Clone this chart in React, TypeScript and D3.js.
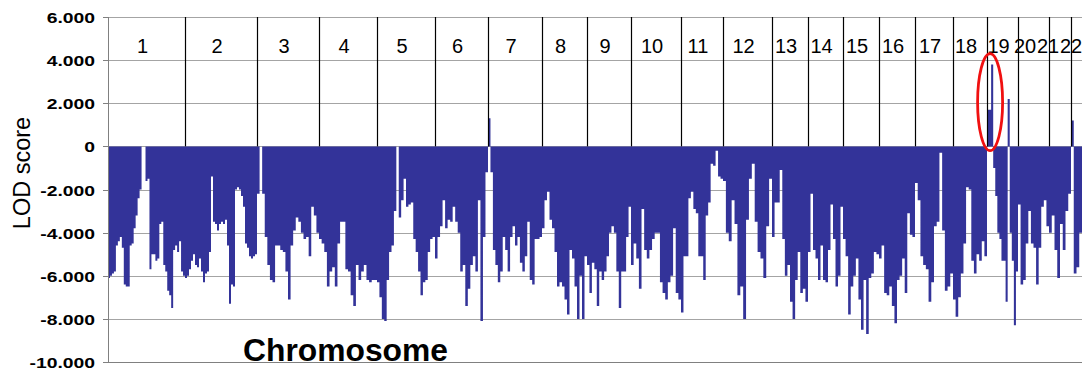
import React, { useEffect, useRef } from 'react';
import * as d3 from 'd3';

// chromosome names and relative map lengths
const chromosomes = ['1', '2', '3', '4', '5', '6', '7', '8', '9', '10', '11', '12', '13', '14', '15', '16', '17', '18', '19', '20', '21', '22'];
const chromLength = [77, 72, 62, 58, 58, 53, 54, 45, 44, 50, 42, 49, 36, 35, 36, 36, 38, 34, 31, 31, 22, 22];

// LOD scores along each chromosome (evenly spaced markers)
const chr1 = [-6.1, -6.0, -5.9, -5.8, -4.6, -4.4, -4.2, -4.7, -6.4, -6.5, -6.5, -4.6, -4.5, -3.8, -3.2, -2.4, -2.0, 0, 0, -1.6, -1.5, -5.7, -5.0, -5.0, -5.3, -5.2, -3.6, -3.5, -5.5, -5.8, -6.7, -6.9, -7.5, -4.8, -4.6, -4.9, -4.4, -5.8, -6.0];
const chr2 = [-6.1, -6.0, -5.7, -5.3, -5.0, -5.5, -5.6, -5.2, -5.8, -6.3, -5.9, -5.8, -4.9, -1.4, -3.5, -3.6, -3.9, -3.6, -3.5, -3.6, -3.4, -4.6, -7.3, -6.4, -6.5, -2.0, -1.9, -2.0, -2.3, -2.8, -4.5, -4.7, -5.1, -5.2, -5.1, -5.0];
const chr3 = [-2.2, 0, -2.2, -4.2, -5.5, -6.2, -6.3, -4.6, -4.6, -4.8, -4.9, -5.8, -7.1, -4.6, -3.9, -3.3, -3.5, -4.0, -4.3, -4.2, -5.1, -2.8, -3.2, -4.0];
const chr4 = [-4.3, -4.5, -4.9, -6.5, -5.8, -5.6, -6.5, -4.5, -3.5, -3.5, -5.7, -5.8, -6.9, -7.4, -5.5, -6.2, -5.8, -5.5, -6.2, -6.3, -6.2, -6.2];
const chr5 = [-6.3, -7.0, -8.0, -8.1, -6.2, -4.9, -4.6, -3.0, 0, -3.3, -2.5, -1.5, -2.8, -2.7, -2.6, -4.3, -4.9, -5.8, -6.9, -6.3, -6.2, -4.9, -4.3, -4.2];
const chr6 = [-5.2, -4.2, -3.7, -2.5, -3.8, -3.4, -3.5, -2.8, -3.5, -4.0, -5.8, -5.5, -7.4, -6.6, -5.5, -5.1, -5.8, -2.5, -8.1, -4.2, -1.2];
const chr7 = [1.3, -1.2, -4.8, -5.5, -6.3, -5.8, -4.2, -4.8, -5.8, -4.2, -3.7, -4.6, -4.2, -5.4, -5.8, -5.1, -3.5, -6.2, -6.4, -4.3, -4.3, -4.2];
const chr8 = [-3.8, -2.5, -2.1, -3.4, -3.8, -4.9, -6.5, -6.3, -6.5, -7.1, -7.8, -4.8, -5.2, -6.5, -8.0, -6.0, -8.0, -5.1];
const chr9 = [-5.5, -6.8, -5.4, -5.7, -7.4, -5.8, -6.2, -5.8, -5.1, -4.0, -3.7, -4.0, -5.8, -7.5, -5.8, -5.8, -4.2, -2.8];
const chr10 = [-5.5, -4.5, -5.2, -6.6, -2.9, -4.8, -5.2, -4.8, -4.3, -4.0, -4.0, -6.3, -6.8, -7.1, -6.3, -6.0, -3.8, -6.8, -7.1];
const chr11 = [-7.7, -5.1, -5.1, -2.4, -2.1, -2.9, -3.1, -5.1, -5.1, -6.2, -3.2, -2.6, -0.8, -0.9, -0.2, -1.4, -1.5];
const chr12 = [-1.6, -4.0, -4.4, -2.5, -3.6, -6.9, -6.5, -8.0, -3.4, -1.5, -0.8, -3.5, -4.9, -5.2, -6.1, -3.7, -1.5];
const chr13 = [-4.2, -2.6, -2.6, -1.1, -4.3, -6.0, -5.5, -7.2, -8.0, -6.2, -4.9, -6.8, -6.6, -7.2];
const chr14 = [-4.9, -2.2, -4.8, -5.2, -6.2, -4.6, -6.2, -6.3, -4.8, -2.7, -4.3, -6.5, -6.0, -2.8];
const chr15 = [-4.3, -5.1, -7.8, -6.5, -6.0, -5.2, -7.1, -8.5, -6.2, -8.7, -6.1, -5.9, -4.9, -5.0];
const chr16 = [-5.2, -4.6, -6.8, -6.9, -6.5, -7.4, -8.2, -6.2, -6.0, -5.2, -6.8, -3.1, -4.1, -4.2];
const chr17 = [-1.7, -2.5, -5.1, -5.5, -5.7, -7.2, -6.3, -3.7, -3.5, -0.3, -3.9, -6.7, -6.5, -5.9];
const chr18 = [-7.1, -7.9, -7.0, -5.9, -4.5, -1.9, -2.0, -5.3, -5.9, -5.0, -5.3, -4.4, -5.1];
const chr19 = [1.7, 1.7, 3.8, -1.0, -2.3, -4.0, -4.3, -5.3, -5.3, -7.2, 2.2, -4.0, -5.3, -8.3, -5.8];
const chr20 = [-2.7, -6.4, -6.2, -4.5, -3.0, -4.5, -4.7, -6.4, -4.7, -2.8, -2.5, -3.7];
const chr21 = [-4.0, -3.2, -4.8, -6.1, -3.6, -4.8, -3.0, -2.2];
const chr22 = [1.2, -5.9, -5.6, -4.0, -4.6, -5.2, -4.8, -5.0];

const lodByChrom = [chr1, chr2, chr3, chr4, chr5, chr6, chr7, chr8, chr9, chr10, chr11, chr12, chr13, chr14, chr15, chr16, chr17, chr18, chr19, chr20, chr21, chr22];
const yTicks = [6, 4, 2, 0, -2, -4, -6, -8, -10];
const highlightChrom = '19';

const App = () => {
  const svgRef = useRef<SVGSVGElement>(null);

  useEffect(() => {
    const width = 1082;
    const height = 372;
    const left = 108;
    const right = 1093;
    const font = 'Arial, "Liberation Sans", sans-serif';

    const svg = d3.select(svgRef.current);
    svg.selectAll('*').remove();

    const total = d3.sum(chromLength);
    const starts = [0, ...Array.from(d3.cumsum(chromLength))];

    const x = d3.scaleLinear().domain([0, total]).range([left, right]);
    const y = d3.scaleLinear().domain([-10, 6]).range([362, 17]);
    const snap = (v: number) => Math.round(v) + 0.5;

    // flatten markers into genome positions
    const points: { pos: number; v: number }[] = [];
    lodByChrom.forEach((vals, i) => {
      const step = chromLength[i] / vals.length;
      vals.forEach((v, j) => points.push({ pos: starts[i] + j * step, v }));
    });
    points.push({ pos: total, v: points[points.length - 1].v });

    svg.append('rect').attr('width', width).attr('height', height).attr('fill', '#fff');

    // horizontal gridlines
    svg.append('g')
      .selectAll('line')
      .data(yTicks.filter(t => t > -10))
      .join('line')
      .attr('x1', left)
      .attr('x2', width)
      .attr('y1', d => snap(y(d)))
      .attr('y2', d => snap(y(d)))
      .attr('stroke', '#a4a4a4')
      .attr('stroke-width', 1);

    // LOD profile
    const area = d3.area<{ pos: number; v: number }>()
      .x(d => x(d.pos))
      .y0(y(0))
      .y1(d => y(d.v))
      .curve(d3.curveStepAfter);

    svg.append('path')
      .datum(points)
      .attr('d', area)
      .attr('fill', '#333399');

    // chromosome dividers
    svg.append('g')
      .selectAll('line')
      .data(starts.slice(1, chromosomes.length))
      .join('line')
      .attr('x1', d => snap(x(d)))
      .attr('x2', d => snap(x(d)))
      .attr('y1', y(6))
      .attr('y2', y(0))
      .attr('stroke', '#000')
      .attr('stroke-width', 1.2);

    // chromosome labels: centred, then pushed left so the small ones don't collide
    const labelX = chromosomes.map((d, i) => x(starts[i] + chromLength[i] / 2) - 4);
    labelX[labelX.length - 1] = Math.min(labelX[labelX.length - 1], width - 11);
    for (let i = labelX.length - 2; i >= 0; i--) {
      const minGap = chromosomes[i].length + chromosomes[i + 1].length > 2 ? 23 : 16;
      labelX[i] = Math.min(labelX[i], labelX[i + 1] - minGap);
    }

    svg.append('g')
      .selectAll('text')
      .data(chromosomes)
      .join('text')
      .attr('x', (d, i) => labelX[i])
      .attr('y', 53)
      .attr('text-anchor', 'middle')
      .attr('font-family', font)
      .attr('font-size', 20)
      .attr('fill', '#000')
      .text(d => d);

    // axes lines
    svg.append('line')
      .attr('x1', snap(left)).attr('x2', snap(left))
      .attr('y1', y(6)).attr('y2', y(-10))
      .attr('stroke', '#808080');
    svg.append('line')
      .attr('x1', left).attr('x2', width)
      .attr('y1', snap(y(-10))).attr('y2', snap(y(-10)))
      .attr('stroke', '#808080');

    // ticks + labels
    const ticks = svg.append('g');
    ticks.selectAll('line')
      .data(yTicks)
      .join('line')
      .attr('x1', left - 5)
      .attr('x2', left)
      .attr('y1', d => snap(y(d)))
      .attr('y2', d => snap(y(d)))
      .attr('stroke', '#808080');

    ticks.selectAll('g')
      .data(yTicks)
      .join('g')
      .attr('transform', d => `translate(95,${y(d) + 6}) scale(1.38,1)`)
      .append('text')
      .attr('text-anchor', 'end')
      .attr('font-family', font)
      .attr('font-weight', 'bold')
      .attr('font-size', 14)
      .attr('fill', '#000')
      .text(d => (d === 0 ? '0' : d.toFixed(3)));

    // axis titles
    svg.append('text')
      .attr('transform', 'translate(30,173) rotate(-90)')
      .attr('text-anchor', 'middle')
      .attr('font-family', font)
      .attr('font-size', 23.5)
      .attr('fill', '#000')
      .text('LOD score');

    svg.append('text')
      .attr('x', 243)
      .attr('y', 361)
      .attr('font-family', font)
      .attr('font-weight', 'bold')
      .attr('font-size', 31.8)
      .attr('fill', '#000')
      .text('Chromosome');

    // highlight of the linkage peak
    const hi = chromosomes.indexOf(highlightChrom);
    const hiVals = lodByChrom[hi];
    const hiStep = chromLength[hi] / hiVals.length;
    let runEnd = 0;
    while (runEnd < hiVals.length && hiVals[runEnd] > 0) runEnd++;
    const peak = d3.max(hiVals) as number;
    const cx = x(starts[hi] + (runEnd * hiStep) / 2);
    const yTop = y(peak + 0.5);
    const yBot = y(-0.2);
    svg.append('ellipse')
      .attr('cx', cx)
      .attr('cy', (yTop + yBot) / 2)
      .attr('rx', 12.5)
      .attr('ry', (yBot - yTop) / 2)
      .attr('fill', 'none')
      .attr('stroke', '#f01010')
      .attr('stroke-width', 2.8);
  }, []);

  return (
    <svg
      ref={svgRef}
      width={1082}
      height={372}
      style={{ position: 'absolute', left: 0, top: 0, display: 'block' }}
    />
  );
};

export default App;
